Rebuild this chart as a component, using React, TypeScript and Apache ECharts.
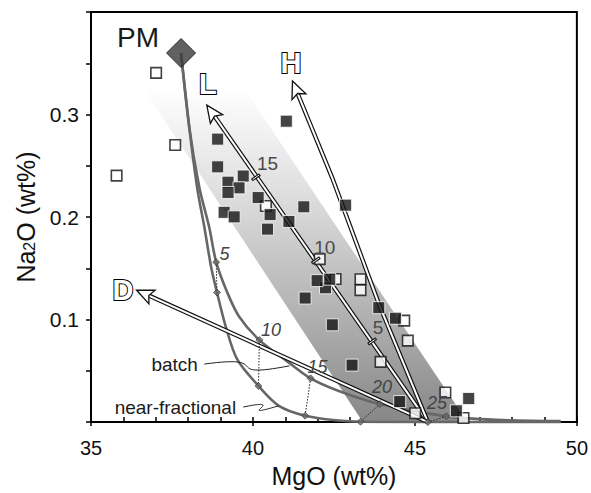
import React, { useEffect, useRef } from 'react';
import * as echarts from 'echarts';

const FONT = '"Liberation Sans", Arial, Helvetica, sans-serif';

// axes
const xRange = [35, 50];
const yRange = [0, 0.4];
const yLabelValues = [0.1, 0.2, 0.3];

// peridotite samples (MgO, Na2O)
const openSquares: [number, number][] = [
  [35.79, 0.2404], [37.01, 0.3406], [37.6, 0.2703], [40.4, 0.2108],
  [42.06, 0.159], [42.55, 0.1396], [43.32, 0.1393], [43.32, 0.1287],
  [44.67, 0.099], [44.78, 0.0795], [43.94, 0.0587], [45.94, 0.0288],
  [45.01, 0.0087], [46.5, 0.004],
];
const filledSquares: [number, number][] = [
  [41.03, 0.2935], [38.91, 0.276], [38.91, 0.249], [39.7, 0.24], [39.23, 0.234],
  [39.57, 0.2285], [39.23, 0.224], [40.16, 0.219], [41.57, 0.21], [42.86, 0.2116],
  [39.11, 0.2046], [39.42, 0.2002], [40.53, 0.2024], [41.11, 0.1957], [40.45, 0.1882],
  [42.24, 0.131], [41.98, 0.138], [42.37, 0.1394], [41.61, 0.121], [43.885, 0.1116],
  [44.4, 0.1013], [42.45, 0.0949], [43.06, 0.0556], [44.53, 0.02], [46.66, 0.023],
  [46.28, 0.011],
];

// primitive mantle
const PM: [number, number] = [37.78, 0.36];

// melting curves
const batchCurve: [number, number][] = [
  [37.78, 0.36], [38.04, 0.286], [38.35, 0.228], [38.65, 0.19], [38.865, 0.156],
  [39.2, 0.127], [39.57, 0.103], [40.2, 0.08], [41.11, 0.058], [41.78, 0.0427],
  [42.65, 0.0304], [43.92, 0.0176], [45.97, 0.0056], [47.5, 0.0022], [49.5, 0.001],
];
const fracCurve: [number, number][] = [
  [37.78, 0.36], [38.04, 0.286], [38.28, 0.228], [38.5, 0.19], [38.71, 0.151],
  [38.89, 0.1264], [39.16, 0.0932], [39.51, 0.0614], [40.17, 0.0353], [40.8, 0.0159],
  [41.61, 0.0063], [42.65, 0.0015], [43.32, 0.0003], [45.4, 0], [49.5, 0],
];
const meltPercents = ['5', '10', '15', '20', '25'];
const batchMarks: [number, number][] = [
  [38.865, 0.156], [40.2, 0.08], [41.78, 0.0427], [43.92, 0.0176], [45.97, 0.0056],
];
const fracMarks: [number, number][] = [
  [38.89, 0.1264], [40.17, 0.0353], [41.61, 0.0063], [43.32, 0.0003], [45.4, 0],
];
const meltLabelPos: [number, number][] = [
  [39.12, 0.164], [40.555, 0.0903], [41.99, 0.0533], [43.985, 0.034], [45.68, 0.0186],
];

// trend arrows
const lArrow: [number, number][] = [[45.4, 0], [38.575, 0.3092]];
const hArrow: [number, number][] = [[45.4, 0], [43.88, 0.1159], [42.45, 0.238], [41.22, 0.3327]];
const dArrow: [number, number][] = [[45.4, 0], [36.405, 0.1288]];
const arrowPaths = [lArrow, hArrow, dArrow];
const arrowNames = ['L', 'H', 'D'];
const arrowNamePos: [number, number][] = [[38.605, 0.3295], [41.17, 0.3504], [35.99, 0.1288]];

// ticks on L trend
const lTickLabels = ['15', '10', '5'];
const lTicks: [number, number][] = [[40.09, 0.2388], [41.94, 0.1577], [43.68, 0.0787]];
const lTickLabelPos: [number, number][] = [[40.45, 0.2524], [42.215, 0.1705], [43.86, 0.0918]];

// shaded band
const bandCorners: [number, number][] = [[36.6, 0.3266], [39.7, 0.3266], [46.62, 0], [43.39, 0]];

// text annotations
const pmLabelPos: [number, number] = [36.45, 0.3748];
const curveNames = ['batch', 'near-fractional'];
const curveNamePos: [number, number][] = [[38.3, 0.0566], [39.48, 0.0147]];
const leaderLines: [number, number][][] = [
  [[38.5, 0.0566], [41.13, 0.0549]],
  [[39.7, 0.0147], [40.8, 0.0159]],
];

export default function App() {
  const ref = useRef<HTMLDivElement>(null);
  useEffect(() => {
    if (!ref.current) return;
    const chart = echarts.init(ref.current, undefined, { renderer: 'svg' });

    const renderBand = (_p: any, api: any) => {
      const pts = bandCorners.map((c) => api.coord(c));
      return {
        type: 'polygon',
        shape: { points: pts },
        style: {
          fill: new echarts.graphic.LinearGradient(0, 0, 0, 1, [
            { offset: 0, color: '#ffffff' },
            { offset: 0.3, color: '#e0e0e0' },
            { offset: 0.65, color: '#b5b5b5' },
            { offset: 1, color: '#878787' },
          ]),
        },
      };
    };

    const renderArrow = (params: any, api: any) => {
      const pts = arrowPaths[params.dataIndex].map((p) => api.coord(p));
      const tip = pts[pts.length - 1];
      const prev = pts[pts.length - 2];
      let dx = tip[0] - prev[0];
      let dy = tip[1] - prev[1];
      const len = Math.hypot(dx, dy);
      dx /= len; dy /= len;
      const nx = -dy, ny = dx;
      const AL = 17, AW = 7.5, N = 3.5;
      const bx = tip[0] - dx * AL, by = tip[1] - dy * AL;
      const notch = [tip[0] - dx * (AL - N), tip[1] - dy * (AL - N)];
      const head = [tip, [bx + nx * AW, by + ny * AW], notch, [bx - nx * AW, by - ny * AW]];
      const linePts = pts.slice(0, -1).concat([notch]);
      return {
        type: 'group',
        children: [
          { type: 'polyline', shape: { points: linePts }, style: { stroke: '#111', lineWidth: 4.4, fill: 'none' } },
          { type: 'polyline', shape: { points: linePts }, style: { stroke: '#fff', lineWidth: 2, fill: 'none' } },
          { type: 'polygon', shape: { points: head }, style: { fill: '#fff', stroke: '#111', lineWidth: 1.3 } },
        ],
      };
    };

    const renderConnectors = (_p: any, api: any) => {
      const children: any[] = batchMarks.map((b, i) => {
        const a = api.coord(b);
        const f = api.coord(fracMarks[i]);
        return {
          type: 'line',
          shape: { x1: a[0], y1: a[1], x2: f[0], y2: f[1] },
          style: { stroke: '#222', lineWidth: 1, lineDash: [1.5, 1.5] },
        };
      });
      return { type: 'group', children };
    };

    const renderAnnotations = (_p: any, api: any) => {
      const children: any[] = [];
      const text = (t: string, p: number[], extra: any) => ({
        type: 'text',
        x: p[0],
        y: p[1],
        style: Object.assign(
          { text: t, fontFamily: FONT, align: 'center', verticalAlign: 'middle', fill: '#1a1a1a' },
          extra,
        ),
      });
      // PM
      children.push(text('PM', api.coord(pmLabelPos), { fontSize: 28 }));
      // L H D outlined letters
      arrowNames.forEach((n, i) => {
        children.push(text(n, api.coord(arrowNamePos[i]), {
          fontSize: 29, fontWeight: 'bold', fill: '#ffffff', stroke: '#000000', lineWidth: 2,
        }));
      });
      // melt percentages on curves
      meltPercents.forEach((m, i) => {
        children.push(text(m, api.coord(meltLabelPos[i]), {
          fontSize: 18, fontStyle: 'italic', fill: '#444',
        }));
      });
      // L trend ticks
      const l0 = api.coord(lArrow[0]);
      const l1 = api.coord(lArrow[1]);
      let dx = l1[0] - l0[0], dy = l1[1] - l0[1];
      const len = Math.hypot(dx, dy);
      dx /= len; dy /= len;
      lTicks.forEach((t, i) => {
        const c = api.coord(t);
        const nx = -dy * 5, ny = dx * 5;
        children.push({
          type: 'line',
          shape: { x1: c[0] - nx, y1: c[1] - ny, x2: c[0] + nx, y2: c[1] + ny },
          style: { stroke: '#111', lineWidth: 3 },
        });
        children.push({
          type: 'line',
          shape: { x1: c[0] - nx * 0.8, y1: c[1] - ny * 0.8, x2: c[0] + nx * 0.8, y2: c[1] + ny * 0.8 },
          style: { stroke: '#fff', lineWidth: 1 },
        });
        children.push(text(lTickLabels[i], api.coord(lTickLabelPos[i]), { fontSize: 19, fill: '#4a4a4a' }));
      });
      // curve names
      curveNames.forEach((n, i) => {
        children.push(text(n, api.coord(curveNamePos[i]), { fontSize: 19, align: 'right' }));
      });
      // squiggle leaders
      leaderLines.forEach((seg) => {
        const s = api.coord(seg[0]);
        const e = api.coord(seg[1]);
        const mx = (s[0] + e[0]) / 2;
        children.push({
          type: 'bezierCurve',
          shape: {
            x1: s[0], y1: s[1], x2: e[0], y2: e[1],
            cpx1: mx + 30, cpy1: s[1] - 10, cpx2: mx - 30, cpy2: e[1] + 14,
          },
          style: { stroke: '#222', lineWidth: 1, fill: 'none' },
        });
      });
      return { type: 'group', children };
    };

    const axisText = { fontFamily: FONT, color: '#111' };

    chart.setOption({
      animation: false,
      backgroundColor: '#fff',
      grid: {
        left: 91, right: 12, top: 12, bottom: 66,
        show: true, borderColor: '#000', borderWidth: 2, backgroundColor: 'transparent',
      },
      xAxis: [
        {
          type: 'value', min: xRange[0], max: xRange[1], interval: 5, position: 'bottom',
          axisLine: { show: true, onZero: false, lineStyle: { color: '#000', width: 2 } },
          axisTick: { show: true, inside: false, length: 4, lineStyle: { color: '#000', width: 1.5 } },
          axisLabel: { ...axisText, fontSize: 20, margin: 16 },
          splitLine: { show: false },
          name: 'MgO (wt%)', nameLocation: 'middle', nameGap: 38,
          nameTextStyle: { ...axisText, fontSize: 25 },
        },
        {
          type: 'value', min: xRange[0], max: xRange[1], interval: 1, position: 'bottom',
          axisLine: { show: false, onZero: false },
          axisTick: { show: true, inside: true, length: 5, lineStyle: { color: '#000', width: 1.5 } },
          axisLabel: { show: false },
          splitLine: { show: false },
        },
      ],
      yAxis: {
        type: 'value', min: yRange[0], max: yRange[1], interval: 0.05,
        axisLine: { show: true, onZero: false, lineStyle: { color: '#000', width: 2 } },
        axisTick: { show: true, inside: false, length: 5, lineStyle: { color: '#000', width: 1.5 } },
        axisLabel: {
          ...axisText, fontSize: 21, margin: 12,
          formatter: (v: number) =>
            yLabelValues.some((t) => Math.abs(t - v) < 1e-6) ? v.toFixed(1) : '',
        },
        splitLine: { show: false },
        name: '{a|Na}{s|2}{a|O (wt%)}', nameLocation: 'middle', nameGap: 52, nameRotate: 90,
        nameTextStyle: {
          ...axisText,
          rich: {
            a: { fontFamily: FONT, fontSize: 25, color: '#111' },
            s: { fontFamily: FONT, fontSize: 16, color: '#111', verticalAlign: 'bottom', padding: [0, 0, 1, 0] },
          },
        },
      },
      series: [
        { type: 'custom', name: 'band', silent: true, z: 1, renderItem: renderBand, data: [[40, 0.2]] },
        {
          type: 'line', name: 'batch', data: batchCurve, symbol: 'none', smooth: 0.3, silent: true, z: 2,
          lineStyle: { color: '#676767', width: 2.6 },
        },
        {
          type: 'line', name: 'near-fractional', data: fracCurve, symbol: 'none', smooth: 0.3, silent: true, z: 2,
          lineStyle: { color: '#676767', width: 2.6 },
        },
        {
          type: 'custom', name: 'arrows', silent: true, z: 3, renderItem: renderArrow,
          data: arrowPaths.map((p) => p[0]),
        },
        { type: 'custom', name: 'connectors', silent: true, z: 4, renderItem: renderConnectors, data: [[40, 0.2]] },
        {
          type: 'scatter', name: 'marks', data: batchMarks.concat(fracMarks), symbol: 'diamond', symbolSize: 7,
          silent: true, z: 4, itemStyle: { color: '#6a6a6a', borderColor: '#333', borderWidth: 0.8 },
        },
        {
          type: 'scatter', name: 'open', data: openSquares, symbol: 'rect', symbolSize: 10.5, silent: true, z: 5,
          itemStyle: { color: '#fff', borderColor: '#111', borderWidth: 1.6 },
        },
        {
          type: 'scatter', name: 'filled', data: filledSquares, symbol: 'rect', symbolSize: 12, silent: true, z: 6,
          itemStyle: { color: '#151515', borderColor: '#fff', borderWidth: 1 },
        },
        {
          type: 'scatter', name: 'PM', data: [PM], symbol: 'diamond', symbolSize: 29, silent: true, z: 7,
          itemStyle: { color: '#3a3a3a', borderColor: '#111', borderWidth: 1 },
        },
        { type: 'custom', name: 'annotations', silent: true, z: 8, renderItem: renderAnnotations, data: [[40, 0.2]] },
      ],
    });
    return () => chart.dispose();
  }, []);
  return (
    <div
      ref={ref}
      style={{ position: 'fixed', left: 0, top: 0, width: 591, height: 493, background: '#fff' }}
    />
  );
}
